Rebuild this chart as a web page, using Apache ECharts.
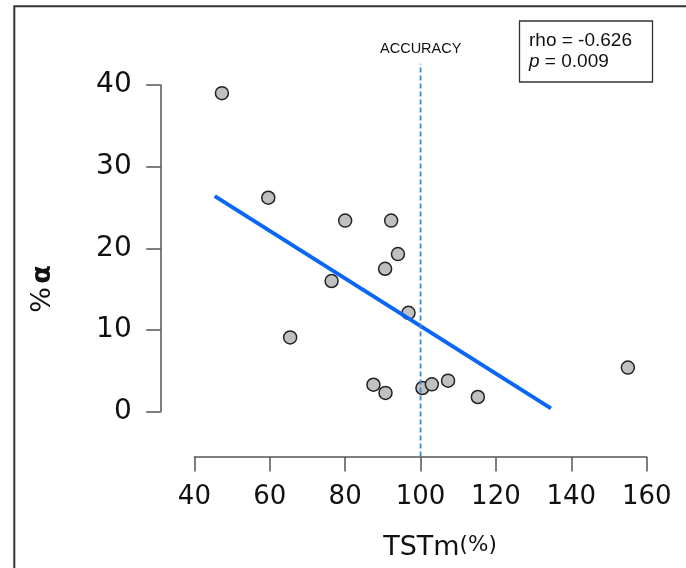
<!DOCTYPE html>
<html lang="en">
<head>
    <meta charset="UTF-8">
    <title>TSTm vs % alpha</title>
    <style>
        html, body { margin: 0; padding: 0; background: #fff; }
        #box { width: 686px; height: 568px; }
    </style>
</head>
<body>
    <div id="box"></div>
    <script src="https://cdn.jsdelivr.net/npm/echarts@6/dist/echarts.min.js"></script>
    <script>
        // data
        var tstm  = [47.3, 59.6, 80.0, 92.2, 94.0, 90.6, 76.4, 96.8, 65.4, 87.5, 90.7, 100.5, 103.0, 107.3, 115.2, 155.0];
        var alpha = [39.0, 26.2, 23.4, 23.4, 19.3, 17.5, 16.0, 12.1, 9.1, 3.3, 2.3, 2.9, 3.35, 3.8, 1.8, 5.4];
        // regression line end points
        var fitX = [45.4, 134.6];
        var fitY = [26.4, 0.4];
        // ACCURACY reference line at x = 100
        var accuracyX = 100;
        var accuracyY = [-5.5, 42.6];
        var xTicks = { min: 40, max: 160, step: 20 };
        var yTicks = { min: 0, max: 40, step: 10 };
        var stats = ['rho = -0.626', '0.009'];

        var points = tstm.map(function (x, i) { return [x, alpha[i]]; });
        var fitLine = fitX.map(function (x, i) { return [x, fitY[i]]; });
        var accLine = accuracyY.map(function (y) { return [accuracyX, y]; });

        var myChart = echarts.init(document.getElementById('box'));

        var option = {
            animation: false,
            grid: { left: 194.4, right: 39.3, top: 85, bottom: 156.3 },
            xAxis: {
                type: 'value',
                min: xTicks.min, max: xTicks.max, interval: xTicks.step,
                offset: 45.2,
                splitLine: { show: false },
                axisLine: { onZero: false, lineStyle: { color: '#555', width: 1.5 } },
                axisTick: { length: 14.5, lineStyle: { color: '#555', width: 1.5 } },
                axisLabel: { margin: 27, color: '#111', fontSize: 26, fontFamily: 'DejaVu Sans' }
            },
            yAxis: {
                type: 'value',
                min: yTicks.min, max: yTicks.max, interval: yTicks.step,
                offset: 33.7,
                splitLine: { show: false },
                axisLine: { show: true, onZero: false, lineStyle: { color: '#555', width: 1.5 } },
                axisTick: { show: true, length: 14.5, lineStyle: { color: '#555', width: 1.5 } },
                axisLabel: { margin: 29, color: '#111', fontSize: 28, fontFamily: 'DejaVu Sans' }
            },
            series: [
                {
                    type: 'scatter',
                    data: points,
                    clip: false,
                    symbolSize: 13,
                    z: 2,
                    itemStyle: { color: '#c0c0c0', borderColor: '#222', borderWidth: 1.5, opacity: 1 }
                },
                {
                    type: 'line',
                    data: fitLine,
                    clip: false,
                    symbol: 'none',
                    z: 3,
                    lineStyle: { color: '#0a66f5', width: 4 }
                },
                {
                    type: 'line',
                    data: accLine,
                    clip: false,
                    symbol: 'none',
                    z: 4,
                    lineStyle: { color: '#3f86d8', width: 1.8, type: [5, 3] }
                }
            ],
            graphic: [
                // open frame: left and top edges
                {
                    type: 'polyline',
                    shape: { points: [[14.3, 568], [14.3, 6.3], [686, 6.3]] },
                    style: { stroke: '#333', lineWidth: 2, fill: null }
                },
                // stats box
                {
                    type: 'rect',
                    shape: { x: 519.5, y: 21, width: 133, height: 61 },
                    style: { stroke: '#333', lineWidth: 1.3, fill: '#fff' }
                },
                {
                    type: 'text',
                    x: 529, y: 40.5,
                    style: { text: stats[0], fill: '#111', fontSize: 19, fontFamily: 'Liberation Sans', verticalAlign: 'middle' }
                },
                {
                    type: 'text',
                    x: 529, y: 62,
                    style: {
                        text: '{i|p} = ' + stats[1],
                        fill: '#111', fontSize: 19, fontFamily: 'Liberation Sans', verticalAlign: 'middle',
                        rich: { i: { fontStyle: 'italic', fontSize: 19, fontFamily: 'Liberation Sans', fill: '#111' } }
                    }
                },
                // ACCURACY label
                {
                    type: 'text',
                    x: 420.7, y: 49,
                    style: { text: 'ACCURACY', fill: '#111', fontSize: 14.5, fontFamily: 'Liberation Sans', align: 'center', verticalAlign: 'middle' }
                },
                // y axis title
                {
                    type: 'text',
                    x: 42.5, y: 289,
                    rotation: Math.PI / 2,
                    style: {
                        text: '{a|%} {b|α}',
                        align: 'center', verticalAlign: 'middle',
                        rich: {
                            a: { fontSize: 27, fontFamily: 'DejaVu Sans', fill: '#111' },
                            b: { fontSize: 27, fontFamily: 'DejaVu Sans', fontWeight: 'bold', fill: '#111' }
                        }
                    }
                },
                // x axis title
                {
                    type: 'text',
                    x: 440, y: 548,
                    style: {
                        text: '{a|TSTm}{b|(%)}',
                        align: 'center', verticalAlign: 'middle',
                        rich: {
                            a: { fontSize: 27, fontFamily: 'DejaVu Sans', fill: '#111' },
                            b: { fontSize: 21.5, fontFamily: 'DejaVu Sans', fill: '#111', verticalAlign: 'top' }
                        }
                    }
                }
            ]
        };

        myChart.setOption(option);
    </script>
</body>
</html>
